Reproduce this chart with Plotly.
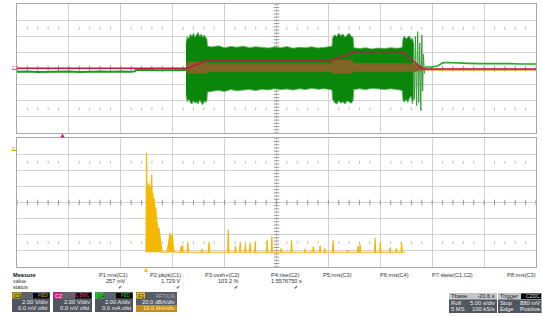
import plotly.graph_objects as go
import numpy as np

W, H = 542, 317
FONT = "Liberation Sans, Arial, sans-serif"

# ---------------- data: time in s (5 s/div, 10 div), amplitude in divisions ----------------
# C2 (red) trace
red_t = [0, 16.47, 18.4, 30.35, 32.56, 37.1, 39.1, 50]
red_y = [0.03, 0.03, 0.54, 0.54, 1.05, 1.05, -0.02, -0.02]

# C4 (orange) trace visible after the burst
orange_t = [39.1, 50]
orange_y = [-0.08, -0.08]

# C1 (green) before the burst
green_pre_t = [0, 1, 2, 3, 4, 5, 6, 7, 8, 9, 10, 11, 11.35, 11.45, 12.5, 13.5, 14.5, 15.5, 16.28]
green_pre_y = [-0.2, -0.18, -0.21, -0.19, -0.2, -0.17, -0.21, -0.19, -0.18, -0.2, -0.17, -0.19,
               -0.17, -0.09, -0.07, -0.1, -0.08, -0.09, -0.08]

# C1 burst envelope
green_t = [16.28, 16.4, 16.55, 16.7, 16.85, 17.0, 17.15, 17.3, 17.45, 17.6, 17.75, 17.9, 18.05, 18.2, 18.3,
           18.35, 18.8, 19.4, 20.0, 20.6, 21.2, 21.8, 22.4, 23.0, 23.6, 24.2, 24.8, 25.4, 26.0, 26.6, 27.2,
           27.8, 28.4, 29.0, 29.6, 30.2, 30.35,
           30.4, 30.6, 30.8, 31.0, 31.2, 31.4, 31.6, 31.8, 32.0, 32.2, 32.37,
           32.45, 33.0, 33.6, 34.2, 34.8, 35.4, 36.0, 36.6, 37.1,
           37.2, 37.35, 37.5, 37.65, 37.8, 37.95, 38.1, 38.2]
green_hi = [1.6, 2.0, 1.85, 2.15, 2.0, 2.2, 1.95, 2.1, 2.25, 2.0, 2.15, 1.95, 2.1, 1.9, 1.85,
            1.4, 1.35, 1.42, 1.3, 1.38, 1.33, 1.4, 1.3, 1.36, 1.32, 1.28, 1.35, 1.3, 1.37, 1.27, 1.33,
            1.3, 1.36, 1.28, 1.32, 1.35, 1.4,
            1.9, 2.1, 2.0, 2.2, 2.05, 2.15, 1.95, 2.1, 2.2, 2.0, 1.95,
            1.3, 1.25, 1.3, 1.22, 1.28, 1.25, 1.3, 1.27, 1.3,
            1.9, 2.0, 1.85, 1.95, 2.05, 1.8, 1.9, 1.6]
green_lo = [-1.6, -2.05, -1.9, -2.1, -2.2, -2.0, -2.15, -2.05, -2.2, -1.95, -2.1, -2.25, -2.0, -2.1, -1.95,
            -1.45, -1.4, -1.35, -1.42, -1.3, -1.38, -1.33, -1.3, -1.36, -1.28, -1.32, -1.25, -1.3, -1.27,
            -1.33, -1.25, -1.3, -1.22, -1.28, -1.25, -1.3, -1.35,
            -1.9, -2.1, -2.2, -2.0, -2.15, -2.05, -2.2, -2.0, -2.1, -2.15, -2.0,
            -1.3, -1.25, -1.3, -1.22, -1.28, -1.3, -1.25, -1.3, -1.35,
            -2.0, -2.05, -1.9, -2.1, -1.85, -1.7, -2.2, -1.8]

# C1 last streaks of the burst
streak_t = [38.2, 38.3, 38.38, 38.5, 38.6, 38.7, 38.8, 38.9, 39.0, 39.08, 39.15, 39.25, 39.3]
streak_y = [1.6, -1.9, 2.0, -2.3, 2.3, -2.1, 1.6, -2.6, 2.1, -1.4, 0.9, -0.3, 0.1]

# C1 after the burst
green_post_t = [39.3, 40.0, 40.5, 41.0, 41.5, 42.5, 43.5, 44.5, 45.5, 46.5, 47.5, 48.5, 49.5, 50]
green_post_y = [0.1, 0.1, 0.16, 0.36, 0.38, 0.34, 0.33, 0.31, 0.32, 0.3, 0.31, 0.29, 0.3, 0.29]

# brown overlap band (C4 under C1)
band_t = [16.3, 16.5, 18.3, 18.4, 30.3, 30.4, 32.3, 32.4, 37.2, 38.2, 38.9, 39.3]
band_hi = [0.2, 0.43, 0.43, 0.33, 0.33, 0.54, 0.54, 0.33, 0.33, 0.3, 0.15, 0.0]
band_lo = [-0.1, -0.29, -0.29, -0.19, -0.19, -0.29, -0.29, -0.19, -0.19, -0.2, -0.1, 0.0]

# F1 = FFT(C4) (yellow), lower grid
fft_t = [12.43, 12.48, 12.52, 12.56, 12.62, 12.68, 12.74, 12.8, 12.86, 12.92, 12.98, 13.02, 13.08,
         13.14, 13.2, 13.28, 13.36, 13.44, 13.52, 13.6, 13.68, 13.76, 13.84, 13.92, 14.0,
         14.45, 14.55, 14.65, 14.75, 14.85, 14.95, 15.05, 15.15,
         15.75, 15.8, 15.85, 15.95, 16.0, 16.4, 16.45, 16.5, 17.75, 17.8, 17.85, 18.45, 18.5, 18.55,
         20.3, 20.35, 20.4, 21.0, 21.05, 21.1, 21.45, 21.5, 21.55, 21.95, 22.0, 22.05,
         22.4, 22.45, 22.5, 22.9, 22.95, 23.0, 24.05, 24.1, 24.15, 24.5, 24.55, 24.6,
         25.4, 25.45, 25.5, 26.4, 26.45, 26.5, 27.7, 27.75, 27.8, 28.5, 28.55, 28.6,
         29.15, 29.2, 29.25, 29.6, 29.65, 29.7, 30.4, 30.45, 30.5, 31.8, 31.85, 31.9,
         32.8, 32.85, 32.9, 33.0, 33.05, 33.1, 34.45, 34.5, 34.55, 34.95, 35.0, 35.05,
         35.9, 35.95, 36.0, 36.5, 36.55, 36.6, 37.0, 37.05, 37.1, 37.38]
fft_y = [-3.1, 3.1, 0.0, 1.0, 0.6, 1.2, 0.7, 1.0, 0.4, 0.9, 1.75, 0.2, 0.6,
         -0.1, 0.3, -0.5, -0.3, -1.0, -1.3, -1.8, -1.6, -2.2, -2.5, -2.8, -3.1,
         -3.1, -2.6, -2.2, -1.9, -2.3, -2.0, -2.7, -3.1,
         -3.1, -2.75, -3.1, -2.65, -3.1, -3.1, -2.45, -3.1, -3.1, -2.9, -3.1, -3.1, -2.45, -3.1,
         -3.1, -1.7, -3.1, -3.1, -2.7, -3.1, -3.1, -2.45, -3.1, -3.1, -2.6, -3.1,
         -3.1, -2.5, -3.1, -3.1, -2.45, -3.1, -3.1, -2.35, -3.1, -3.1, -2.1, -3.1,
         -3.1, -2.85, -3.1, -3.1, -2.35, -3.1, -3.1, -2.9, -3.1, -3.1, -2.75, -3.1,
         -3.1, -2.7, -3.1, -3.1, -2.85, -3.1, -3.1, -2.35, -3.1, -3.1, -2.95, -3.1,
         -3.1, -2.7, -3.1, -3.1, -2.6, -3.1, -3.1, -2.2, -3.1, -3.1, -2.45, -3.1,
         -3.1, -2.8, -3.1, -3.1, -2.85, -3.1, -3.1, -2.5, -3.1, -3.1]

# measurement table
meas_names = ["P1:rms(C1)", "P2:pkpk(C1)", "P3:ovsh+(C2)", "P4:rise(C2)",
              "P5:rms(C3)", "P6:rms(C4)", "P7:skew(C1,C2)", "P8:rms(C3)"]
meas_values = ["257 mV", "1.729 V", "103.2 %", "1.5576750 s", "", "", "", ""]
meas_status = ["✔", "✔", "✔", "✔", "", "", "", ""]

# ---------------- figure ----------------
X_DOM = [17 / W, 536 / W]
TOP_DOM = [1 - 133 / H, 1 - 4.3 / H]
BOT_DOM = [1 - 266.7 / H, 1 - 138.3 / H]

fig = go.Figure()

GRID = "#d2d2d2"
TICK = "#9a9a9a"

# decorations: center-axis ticks and dotted rows, for both grids
minor_x = np.arange(0, 50.01, 1.0)
minor_y = np.arange(-4, 4.01, 0.2)
dot_x = [v for v in minor_x if abs(v / 5 - round(v / 5)) > 1e-6]
for xa, ya in (("x", "y"), ("x2", "y2")):
    fig.add_trace(go.Scatter(x=minor_x, y=[0] * len(minor_x), mode="markers", xaxis=xa, yaxis=ya,
                             marker=dict(symbol="line-ns-open", size=4, color=TICK, line=dict(width=1)),
                             hoverinfo="skip"))
    fig.add_trace(go.Scatter(x=[25] * len(minor_y), y=minor_y, mode="markers", xaxis=xa, yaxis=ya,
                             marker=dict(symbol="line-ew-open", size=4, color=TICK, line=dict(width=1)),
                             hoverinfo="skip"))
    for yy in (2.5, -2.5):
        fig.add_trace(go.Scatter(x=dot_x, y=[yy] * len(dot_x), mode="markers", xaxis=xa, yaxis=ya,
                                 marker=dict(symbol="line-ns-open", size=2, color="#bcbcbc", line=dict(width=1)),
                                 hoverinfo="skip"))

# green pre-burst
fig.add_trace(go.Scatter(x=green_pre_t, y=green_pre_y, mode="lines", line=dict(color="#1c9a1c", width=2),
                         xaxis="x", yaxis="y"))
# green burst envelope
fig.add_trace(go.Scatter(x=green_t + green_t[::-1], y=green_hi + green_lo[::-1], mode="lines",
                         fill="toself", fillcolor="#0a870a", line=dict(color="#55b055", width=0.8),
                         xaxis="x", yaxis="y"))
fig.add_trace(go.Scatter(x=streak_t, y=streak_y, mode="lines", line=dict(color="#3a9d3a", width=1),
                         xaxis="x", yaxis="y"))
# brown band
fig.add_trace(go.Scatter(x=band_t + band_t[::-1], y=band_hi + band_lo[::-1], mode="lines",
                         fill="toself", fillcolor="#7f6426", line=dict(color="#7f6426", width=0.5),
                         xaxis="x", yaxis="y"))
# orange and green after burst
fig.add_trace(go.Scatter(x=orange_t, y=orange_y, mode="lines", line=dict(color="#d8a030", width=1.5),
                         xaxis="x", yaxis="y"))
fig.add_trace(go.Scatter(x=green_post_t, y=green_post_y, mode="lines", line=dict(color="#22aa22", width=1.6),
                         xaxis="x", yaxis="y"))
# red trace
fig.add_trace(go.Scatter(x=red_t, y=red_y, mode="lines", line=dict(color="#c3174c", width=1.5),
                         xaxis="x", yaxis="y"))
# FFT trace
fig.add_trace(go.Scatter(x=fft_t, y=fft_y, mode="lines", fill="toself", fillcolor="#f4b800",
                         line=dict(color="#f4b800", width=1.2), xaxis="x2", yaxis="y2"))

axcommon = dict(range=[0, 50], dtick=5, tick0=0, showgrid=True, gridcolor=GRID, gridwidth=1,
                zeroline=False, showticklabels=False, ticks="", showline=True, mirror=True,
                linecolor="#a8a8a8", linewidth=1, fixedrange=True)
aycommon = dict(range=[-4, 4], dtick=1, tick0=0, showgrid=True, gridcolor=GRID, gridwidth=1,
                zeroline=False, showticklabels=False, ticks="", showline=True, mirror=True,
                linecolor="#a8a8a8", linewidth=1, fixedrange=True)

shapes, annots = [], []


def P(px, py):
    return px / W, 1 - py / H


def rect(x0, y0, x1, y1, fill, line=None):
    a0, b0 = P(x0, y1)
    a1, b1 = P(x1, y0)
    shapes.append(dict(type="rect", xref="paper", yref="paper", x0=a0, y0=b0, x1=a1, y1=b1,
                       fillcolor=fill, layer="above",
                       line=dict(width=0) if line is None else dict(color=line, width=1)))


def text(px, py, s, size=7, color="#222222", anchor="left", bold=False):
    x, y = P(px, py)
    annots.append(dict(xref="paper", yref="paper", x=x, y=y, text=f"<b>{s}</b>" if bold else s,
                       showarrow=False, xanchor=anchor, yanchor="middle", borderpad=0,
                       font=dict(size=size, color=color, family=FONT)))


def tri(cx, cy, color):
    a, b = P(cx - 2.2, cy + 1.8)
    c, d = P(cx + 2.2, cy + 1.8)
    e, f = P(cx, cy - 2.2)
    shapes.append(dict(type="path", xref="paper", yref="paper",
                       path=f"M {a} {b} L {c} {d} L {e} {f} Z", fillcolor=color,
                       line=dict(width=0), layer="above"))


# center lines (slightly darker)
for xa, ya in (("x", "y"), ("x2", "y2")):
    shapes.append(dict(type="line", xref=xa, yref=ya, x0=0, x1=50, y0=0, y1=0,
                       line=dict(color="#b0b0b0", width=1), layer="below"))
    shapes.append(dict(type="line", xref=xa, yref=ya, x0=25, x1=25, y0=-4, y1=4,
                       line=dict(color="#b0b0b0", width=1), layer="below"))

# trace markers
text(11, 67.5, "C1", size=5, color="#e0559a")
shapes.append(dict(type="line", xref="paper", yref="paper", x0=12 / W, x1=17 / W,
                   y0=1 - 69.5 / H, y1=1 - 69.5 / H, line=dict(color="#e0559a", width=1)))
text(11, 148.5, "F1", size=5, color="#e0a800")
shapes.append(dict(type="line", xref="paper", yref="paper", x0=12 / W, x1=17 / W,
                   y0=1 - 150.5 / H, y1=1 - 150.5 / H, line=dict(color="#e0a800", width=1)))
tri(62.5, 135.7, "#e0107a")
tri(146, 270, "#f0c000")

# measurement table
text(12, 274.8, "Measure", size=5.6, color="#111111", bold=True)
text(12, 280.8, "value", size=5.5, color="#333333")
text(12, 286.8, "status", size=5.5, color="#333333")
name_right = [129, 182, 240, 300, 353, 410, 474, 537]
for i, nm in enumerate(meas_names):
    text(name_right[i], 274.8, nm, size=5.6, color="#333333", anchor="right")
    if meas_values[i]:
        text(name_right[i] + (3 if i == 3 else 0) - (2 if i == 0 else 0), 280.8, meas_values[i],
             size=5.6, color="#333333", anchor="right")
    if meas_status[i]:
        text(name_right[i] - 6 if i == 0 else name_right[i] - 1, 286.9, meas_status[i], size=5,
             color="#333333", anchor="right")

# channel descriptor boxes
boxes = [
    (12, 50, "C1", "#b8ac00", "#111111", "FBDI", "#c8b800", "2.00 V/div", "0.0 mV ofst"),
    (53, 92, "C2", "#e0107a", "#ffffff", "BL BWL", "#e04090", "2.00 V/div", "0.0 mV ofst"),
    (95, 133, "C4", "#2ccc2c", "#111111", "FBD", "#2ccc2c", "2.00 A/div", "0.0 mA ofst"),
    (136, 177, "F1", "#f0c000", "#111111", "FFT(C4)", "#b8b8b8", "20.0 dBA/div", "10.0 kHz/div"),
]
for x0, x1, lab, labc, labtc, tag, tagc, r2, r3 in boxes:
    rect(x0, 292, x1, 312, "#50565e")
    rect(x0, 292, x1, 299, "#5e646c")
    if lab == "F1":
        rect(x0, 305, x1, 312, "#c08a1c")
        rect(x0, 292, x1, 305, "#575d66")
    rect(x0 + 0.5, 292.5, x0 + 9, 298.5, labc)
    text(x0 + 1, 295.5, lab, size=5.5, color=labtc)
    if lab != "F1":
        rect(x1 - 17, 293, x1 - 0.5, 298.5, "#000000")
        text(x1 - 1, 295.7, tag, size=4.5, color=tagc, anchor="right")
    else:
        text(x1 - 1, 295.7, tag, size=5, color=tagc, anchor="right")
    text(x1 - 1, 301.7, r2, size=5.8, color="#f0f0f0", anchor="right")
    text(x1 - 1, 308.2, r3, size=5.8, color="#fff2c0" if lab == "F1" else "#f0f0f0", anchor="right")

# timebase / trigger boxes
rect(449, 293, 497, 313, "#50565e")
rect(449, 293, 497, 299.5, "#c4c6ca")
text(450, 296.2, "Tbase", size=5.8, color="#222222")
text(496, 296.2, "-20.6 s", size=5.8, color="#222222", anchor="right")
text(450, 302.8, "Roll", size=5.8, color="#f0f0f0")
text(496, 302.8, "5.00 s/div", size=5.8, color="#f0f0f0", anchor="right")
text(450, 309.3, "5 MS", size=5.8, color="#f0f0f0")
text(496, 309.3, "100 kS/s", size=5.8, color="#f0f0f0", anchor="right")

rect(498, 293, 541.5, 313, "#50565e")
rect(498, 293, 541.5, 299.5, "#c4c6ca")
text(499, 296.2, "Trigger", size=5.8, color="#222222")
rect(521, 293.5, 541, 299, "#000000")
text(540.5, 296.2, "C2DC", size=5, color="#dddddd", anchor="right")
text(499, 302.8, "Stop", size=5.8, color="#f0f0f0")
text(541, 302.8, "880 mV", size=5.8, color="#f0f0f0", anchor="right")
text(499, 309.3, "Edge", size=5.8, color="#f0f0f0")
text(541, 309.3, "Positive", size=5.8, color="#f0f0f0", anchor="right")

fig.update_layout(
    width=W, height=H, autosize=False,
    margin=dict(l=0, r=0, t=0, b=0),
    paper_bgcolor="#ffffff", plot_bgcolor="#ffffff",
    showlegend=False,
    xaxis=dict(domain=X_DOM, anchor="y", **axcommon),
    yaxis=dict(domain=TOP_DOM, anchor="x", **aycommon),
    xaxis2=dict(domain=X_DOM, anchor="y2", **axcommon),
    yaxis2=dict(domain=BOT_DOM, anchor="x2", **aycommon),
    shapes=shapes, annotations=annots,
    font=dict(family=FONT),
)

fig.write_html("out.html", config={"displayModeBar": False, "staticPlot": True},
               post_script="document.body.style.margin='0';document.body.style.overflow='hidden';")
